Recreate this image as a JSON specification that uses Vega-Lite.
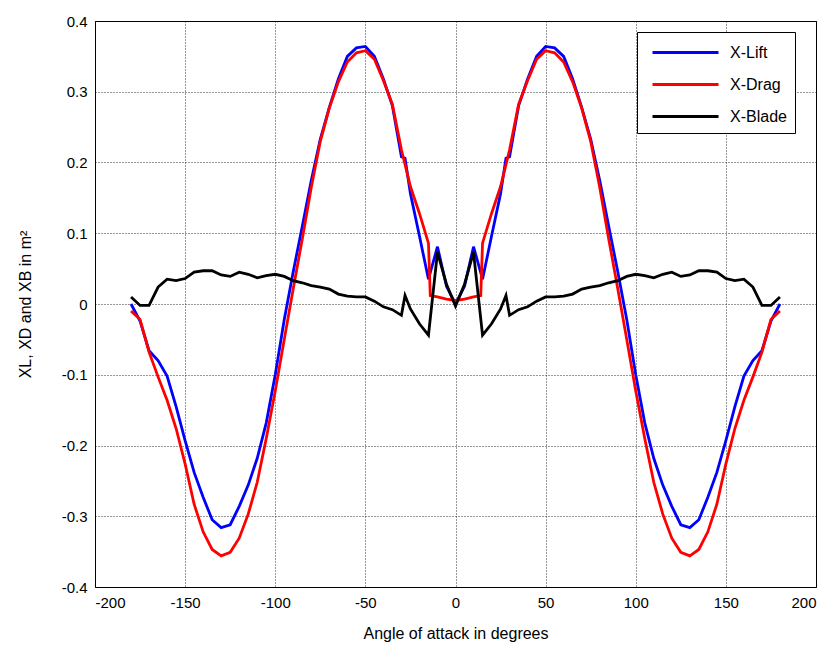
{
  "$schema": "https://vega.github.io/schema/vega-lite/v6.json",
  "width": 721,
  "height": 566,
  "autosize": {"type": "none"},
  "padding": {"left": 95, "top": 21, "right": 21, "bottom": 61},
  "background": "white",
  "config": {
    "font": "Liberation Sans",
    "view": {"stroke": "black", "strokeWidth": 1},
    "axis": {
      "domain": false,
      "ticks": false,
      "grid": true,
      "gridColor": "#000000",
      "gridDash": [1, 2],
      "gridWidth": 1,
      "gridOpacity": 0.8,
      "labelFont": "Liberation Sans",
      "labelFontSize": 15,
      "labelColor": "#000000",
      "titleFont": "Liberation Sans",
      "titleFontSize": 16,
      "titleFontWeight": "normal",
      "titleColor": "#000000"
    }
  },
  "datasets": {
    "curves": [
      {"angle": -180, "series": "X-Lift", "value": 0.000},
      {"angle": -175, "series": "X-Lift", "value": -0.024},
      {"angle": -170, "series": "X-Lift", "value": -0.066},
      {"angle": -165, "series": "X-Lift", "value": -0.080},
      {"angle": -160, "series": "X-Lift", "value": -0.102},
      {"angle": -155, "series": "X-Lift", "value": -0.145},
      {"angle": -150, "series": "X-Lift", "value": -0.193},
      {"angle": -145, "series": "X-Lift", "value": -0.238},
      {"angle": -140, "series": "X-Lift", "value": -0.273},
      {"angle": -135, "series": "X-Lift", "value": -0.305},
      {"angle": -130, "series": "X-Lift", "value": -0.316},
      {"angle": -125, "series": "X-Lift", "value": -0.312},
      {"angle": -120, "series": "X-Lift", "value": -0.286},
      {"angle": -115, "series": "X-Lift", "value": -0.256},
      {"angle": -110, "series": "X-Lift", "value": -0.218},
      {"angle": -105, "series": "X-Lift", "value": -0.168},
      {"angle": -100, "series": "X-Lift", "value": -0.100},
      {"angle": -95, "series": "X-Lift", "value": -0.022},
      {"angle": -90, "series": "X-Lift", "value": 0.046},
      {"angle": -85, "series": "X-Lift", "value": 0.110},
      {"angle": -80, "series": "X-Lift", "value": 0.175},
      {"angle": -75, "series": "X-Lift", "value": 0.233},
      {"angle": -70, "series": "X-Lift", "value": 0.278},
      {"angle": -65, "series": "X-Lift", "value": 0.318},
      {"angle": -60, "series": "X-Lift", "value": 0.350},
      {"angle": -55, "series": "X-Lift", "value": 0.362},
      {"angle": -50, "series": "X-Lift", "value": 0.364},
      {"angle": -45, "series": "X-Lift", "value": 0.350},
      {"angle": -40, "series": "X-Lift", "value": 0.318},
      {"angle": -35, "series": "X-Lift", "value": 0.280},
      {"angle": -30, "series": "X-Lift", "value": 0.208},
      {"angle": -28, "series": "X-Lift", "value": 0.206},
      {"angle": -25, "series": "X-Lift", "value": 0.156},
      {"angle": -20, "series": "X-Lift", "value": 0.096},
      {"angle": -15, "series": "X-Lift", "value": 0.035},
      {"angle": -10, "series": "X-Lift", "value": 0.081},
      {"angle": -5, "series": "X-Lift", "value": 0.025},
      {"angle": 0, "series": "X-Lift", "value": 0.000},
      {"angle": 5, "series": "X-Lift", "value": 0.025},
      {"angle": 10, "series": "X-Lift", "value": 0.081},
      {"angle": 15, "series": "X-Lift", "value": 0.035},
      {"angle": 20, "series": "X-Lift", "value": 0.096},
      {"angle": 25, "series": "X-Lift", "value": 0.156},
      {"angle": 28, "series": "X-Lift", "value": 0.206},
      {"angle": 30, "series": "X-Lift", "value": 0.208},
      {"angle": 35, "series": "X-Lift", "value": 0.280},
      {"angle": 40, "series": "X-Lift", "value": 0.318},
      {"angle": 45, "series": "X-Lift", "value": 0.350},
      {"angle": 50, "series": "X-Lift", "value": 0.364},
      {"angle": 55, "series": "X-Lift", "value": 0.362},
      {"angle": 60, "series": "X-Lift", "value": 0.350},
      {"angle": 65, "series": "X-Lift", "value": 0.318},
      {"angle": 70, "series": "X-Lift", "value": 0.278},
      {"angle": 75, "series": "X-Lift", "value": 0.233},
      {"angle": 80, "series": "X-Lift", "value": 0.175},
      {"angle": 85, "series": "X-Lift", "value": 0.110},
      {"angle": 90, "series": "X-Lift", "value": 0.046},
      {"angle": 95, "series": "X-Lift", "value": -0.022},
      {"angle": 100, "series": "X-Lift", "value": -0.100},
      {"angle": 105, "series": "X-Lift", "value": -0.168},
      {"angle": 110, "series": "X-Lift", "value": -0.218},
      {"angle": 115, "series": "X-Lift", "value": -0.256},
      {"angle": 120, "series": "X-Lift", "value": -0.286},
      {"angle": 125, "series": "X-Lift", "value": -0.312},
      {"angle": 130, "series": "X-Lift", "value": -0.316},
      {"angle": 135, "series": "X-Lift", "value": -0.305},
      {"angle": 140, "series": "X-Lift", "value": -0.273},
      {"angle": 145, "series": "X-Lift", "value": -0.238},
      {"angle": 150, "series": "X-Lift", "value": -0.193},
      {"angle": 155, "series": "X-Lift", "value": -0.145},
      {"angle": 160, "series": "X-Lift", "value": -0.102},
      {"angle": 165, "series": "X-Lift", "value": -0.080},
      {"angle": 170, "series": "X-Lift", "value": -0.066},
      {"angle": 175, "series": "X-Lift", "value": -0.024},
      {"angle": 180, "series": "X-Lift", "value": 0.000},

      {"angle": -180, "series": "X-Drag", "value": -0.010},
      {"angle": -175, "series": "X-Drag", "value": -0.022},
      {"angle": -170, "series": "X-Drag", "value": -0.068},
      {"angle": -165, "series": "X-Drag", "value": -0.103},
      {"angle": -160, "series": "X-Drag", "value": -0.136},
      {"angle": -155, "series": "X-Drag", "value": -0.176},
      {"angle": -150, "series": "X-Drag", "value": -0.226},
      {"angle": -145, "series": "X-Drag", "value": -0.283},
      {"angle": -140, "series": "X-Drag", "value": -0.322},
      {"angle": -135, "series": "X-Drag", "value": -0.347},
      {"angle": -130, "series": "X-Drag", "value": -0.356},
      {"angle": -125, "series": "X-Drag", "value": -0.351},
      {"angle": -120, "series": "X-Drag", "value": -0.331},
      {"angle": -115, "series": "X-Drag", "value": -0.297},
      {"angle": -110, "series": "X-Drag", "value": -0.252},
      {"angle": -105, "series": "X-Drag", "value": -0.190},
      {"angle": -100, "series": "X-Drag", "value": -0.123},
      {"angle": -95, "series": "X-Drag", "value": -0.050},
      {"angle": -90, "series": "X-Drag", "value": 0.022},
      {"angle": -85, "series": "X-Drag", "value": 0.092},
      {"angle": -80, "series": "X-Drag", "value": 0.165},
      {"angle": -75, "series": "X-Drag", "value": 0.230},
      {"angle": -70, "series": "X-Drag", "value": 0.277},
      {"angle": -65, "series": "X-Drag", "value": 0.314},
      {"angle": -60, "series": "X-Drag", "value": 0.342},
      {"angle": -55, "series": "X-Drag", "value": 0.355},
      {"angle": -50, "series": "X-Drag", "value": 0.358},
      {"angle": -45, "series": "X-Drag", "value": 0.346},
      {"angle": -40, "series": "X-Drag", "value": 0.316},
      {"angle": -35, "series": "X-Drag", "value": 0.282},
      {"angle": -30, "series": "X-Drag", "value": 0.218},
      {"angle": -25, "series": "X-Drag", "value": 0.166},
      {"angle": -20, "series": "X-Drag", "value": 0.128},
      {"angle": -15, "series": "X-Drag", "value": 0.086},
      {"angle": -14, "series": "X-Drag", "value": 0.012},
      {"angle": -10, "series": "X-Drag", "value": 0.010},
      {"angle": -5, "series": "X-Drag", "value": 0.007},
      {"angle": 0, "series": "X-Drag", "value": 0.005},
      {"angle": 5, "series": "X-Drag", "value": 0.007},
      {"angle": 10, "series": "X-Drag", "value": 0.010},
      {"angle": 14, "series": "X-Drag", "value": 0.012},
      {"angle": 15, "series": "X-Drag", "value": 0.086},
      {"angle": 20, "series": "X-Drag", "value": 0.128},
      {"angle": 25, "series": "X-Drag", "value": 0.166},
      {"angle": 30, "series": "X-Drag", "value": 0.218},
      {"angle": 35, "series": "X-Drag", "value": 0.282},
      {"angle": 40, "series": "X-Drag", "value": 0.316},
      {"angle": 45, "series": "X-Drag", "value": 0.346},
      {"angle": 50, "series": "X-Drag", "value": 0.358},
      {"angle": 55, "series": "X-Drag", "value": 0.355},
      {"angle": 60, "series": "X-Drag", "value": 0.342},
      {"angle": 65, "series": "X-Drag", "value": 0.314},
      {"angle": 70, "series": "X-Drag", "value": 0.277},
      {"angle": 75, "series": "X-Drag", "value": 0.230},
      {"angle": 80, "series": "X-Drag", "value": 0.165},
      {"angle": 85, "series": "X-Drag", "value": 0.092},
      {"angle": 90, "series": "X-Drag", "value": 0.022},
      {"angle": 95, "series": "X-Drag", "value": -0.050},
      {"angle": 100, "series": "X-Drag", "value": -0.123},
      {"angle": 105, "series": "X-Drag", "value": -0.190},
      {"angle": 110, "series": "X-Drag", "value": -0.252},
      {"angle": 115, "series": "X-Drag", "value": -0.297},
      {"angle": 120, "series": "X-Drag", "value": -0.331},
      {"angle": 125, "series": "X-Drag", "value": -0.351},
      {"angle": 130, "series": "X-Drag", "value": -0.356},
      {"angle": 135, "series": "X-Drag", "value": -0.347},
      {"angle": 140, "series": "X-Drag", "value": -0.322},
      {"angle": 145, "series": "X-Drag", "value": -0.283},
      {"angle": 150, "series": "X-Drag", "value": -0.226},
      {"angle": 155, "series": "X-Drag", "value": -0.176},
      {"angle": 160, "series": "X-Drag", "value": -0.136},
      {"angle": 165, "series": "X-Drag", "value": -0.103},
      {"angle": 170, "series": "X-Drag", "value": -0.068},
      {"angle": 175, "series": "X-Drag", "value": -0.022},
      {"angle": 180, "series": "X-Drag", "value": -0.010},

      {"angle": -180, "series": "X-Blade", "value": 0.010},
      {"angle": -175, "series": "X-Blade", "value": -0.002},
      {"angle": -170, "series": "X-Blade", "value": -0.002},
      {"angle": -165, "series": "X-Blade", "value": 0.024},
      {"angle": -160, "series": "X-Blade", "value": 0.035},
      {"angle": -155, "series": "X-Blade", "value": 0.033},
      {"angle": -150, "series": "X-Blade", "value": 0.036},
      {"angle": -145, "series": "X-Blade", "value": 0.045},
      {"angle": -140, "series": "X-Blade", "value": 0.047},
      {"angle": -135, "series": "X-Blade", "value": 0.047},
      {"angle": -130, "series": "X-Blade", "value": 0.041},
      {"angle": -125, "series": "X-Blade", "value": 0.039},
      {"angle": -120, "series": "X-Blade", "value": 0.045},
      {"angle": -115, "series": "X-Blade", "value": 0.042},
      {"angle": -110, "series": "X-Blade", "value": 0.037},
      {"angle": -105, "series": "X-Blade", "value": 0.040},
      {"angle": -100, "series": "X-Blade", "value": 0.042},
      {"angle": -95, "series": "X-Blade", "value": 0.039},
      {"angle": -90, "series": "X-Blade", "value": 0.033},
      {"angle": -85, "series": "X-Blade", "value": 0.030},
      {"angle": -80, "series": "X-Blade", "value": 0.026},
      {"angle": -75, "series": "X-Blade", "value": 0.024},
      {"angle": -70, "series": "X-Blade", "value": 0.021},
      {"angle": -65, "series": "X-Blade", "value": 0.014},
      {"angle": -60, "series": "X-Blade", "value": 0.011},
      {"angle": -55, "series": "X-Blade", "value": 0.010},
      {"angle": -50, "series": "X-Blade", "value": 0.010},
      {"angle": -45, "series": "X-Blade", "value": 0.004},
      {"angle": -40, "series": "X-Blade", "value": -0.004},
      {"angle": -35, "series": "X-Blade", "value": -0.008},
      {"angle": -30, "series": "X-Blade", "value": -0.016},
      {"angle": -28, "series": "X-Blade", "value": 0.012},
      {"angle": -25, "series": "X-Blade", "value": -0.007},
      {"angle": -20, "series": "X-Blade", "value": -0.028},
      {"angle": -15, "series": "X-Blade", "value": -0.044},
      {"angle": -10, "series": "X-Blade", "value": 0.073},
      {"angle": -5, "series": "X-Blade", "value": 0.028},
      {"angle": 0, "series": "X-Blade", "value": -0.003},
      {"angle": 5, "series": "X-Blade", "value": 0.028},
      {"angle": 10, "series": "X-Blade", "value": 0.073},
      {"angle": 15, "series": "X-Blade", "value": -0.044},
      {"angle": 20, "series": "X-Blade", "value": -0.028},
      {"angle": 25, "series": "X-Blade", "value": -0.007},
      {"angle": 28, "series": "X-Blade", "value": 0.012},
      {"angle": 30, "series": "X-Blade", "value": -0.016},
      {"angle": 35, "series": "X-Blade", "value": -0.008},
      {"angle": 40, "series": "X-Blade", "value": -0.004},
      {"angle": 45, "series": "X-Blade", "value": 0.004},
      {"angle": 50, "series": "X-Blade", "value": 0.010},
      {"angle": 55, "series": "X-Blade", "value": 0.010},
      {"angle": 60, "series": "X-Blade", "value": 0.011},
      {"angle": 65, "series": "X-Blade", "value": 0.014},
      {"angle": 70, "series": "X-Blade", "value": 0.021},
      {"angle": 75, "series": "X-Blade", "value": 0.024},
      {"angle": 80, "series": "X-Blade", "value": 0.026},
      {"angle": 85, "series": "X-Blade", "value": 0.030},
      {"angle": 90, "series": "X-Blade", "value": 0.033},
      {"angle": 95, "series": "X-Blade", "value": 0.039},
      {"angle": 100, "series": "X-Blade", "value": 0.042},
      {"angle": 105, "series": "X-Blade", "value": 0.040},
      {"angle": 110, "series": "X-Blade", "value": 0.037},
      {"angle": 115, "series": "X-Blade", "value": 0.042},
      {"angle": 120, "series": "X-Blade", "value": 0.045},
      {"angle": 125, "series": "X-Blade", "value": 0.039},
      {"angle": 130, "series": "X-Blade", "value": 0.041},
      {"angle": 135, "series": "X-Blade", "value": 0.047},
      {"angle": 140, "series": "X-Blade", "value": 0.047},
      {"angle": 145, "series": "X-Blade", "value": 0.045},
      {"angle": 150, "series": "X-Blade", "value": 0.036},
      {"angle": 155, "series": "X-Blade", "value": 0.033},
      {"angle": 160, "series": "X-Blade", "value": 0.035},
      {"angle": 165, "series": "X-Blade", "value": 0.024},
      {"angle": 170, "series": "X-Blade", "value": -0.002},
      {"angle": 175, "series": "X-Blade", "value": -0.002},
      {"angle": 180, "series": "X-Blade", "value": 0.010}
    ]
  },
  "data": {"name": "curves"},
  "mark": {"type": "line", "strokeWidth": 2.8, "clip": true},
  "encoding": {
    "x": {
      "field": "angle",
      "type": "quantitative",
      "scale": {"domain": [-200, 200], "nice": false, "zero": false},
      "axis": {
        "values": [-200, -150, -100, -50, 0, 50, 100, 150, 200],
        "labelExpr": "'' + datum.value",
        "labelPadding": 8,
        "title": "Angle of attack in degrees",
        "titlePadding": 15
      }
    },
    "y": {
      "field": "value",
      "type": "quantitative",
      "scale": {"domain": [-0.4, 0.4], "nice": false, "zero": false},
      "axis": {
        "values": [-0.4, -0.3, -0.2, -0.1, 0, 0.1, 0.2, 0.3, 0.4],
        "labelExpr": "'' + datum.value",
        "labelPadding": 8,
        "title": "XL, XD and XB in m²",
        "titlePadding": 28
      }
    },
    "color": {
      "field": "series",
      "type": "nominal",
      "scale": {"domain": ["X-Lift", "X-Drag", "X-Blade"], "range": ["#0000ff", "#ff0000", "#000000"]},
      "legend": {
        "title": null,
        "orient": "none",
        "legendX": 542,
        "legendY": 11,
        "fillColor": "white",
        "strokeColor": "black",
        "padding": 8,
        "symbolType": "M-0.4545,0H5.5455",
        "symbolSize": 484,
        "symbolStrokeWidth": 3,
        "labelFontSize": 16,
        "labelFont": "Liberation Sans",
        "labelColor": "#000000",
        "labelOffset": 60,
        "labelExpr": "datum.label + '   '",
        "rowPadding": 11,
        "labelLimit": 200
      }
    },
    "order": {"field": "angle", "type": "quantitative"}
  }
}
